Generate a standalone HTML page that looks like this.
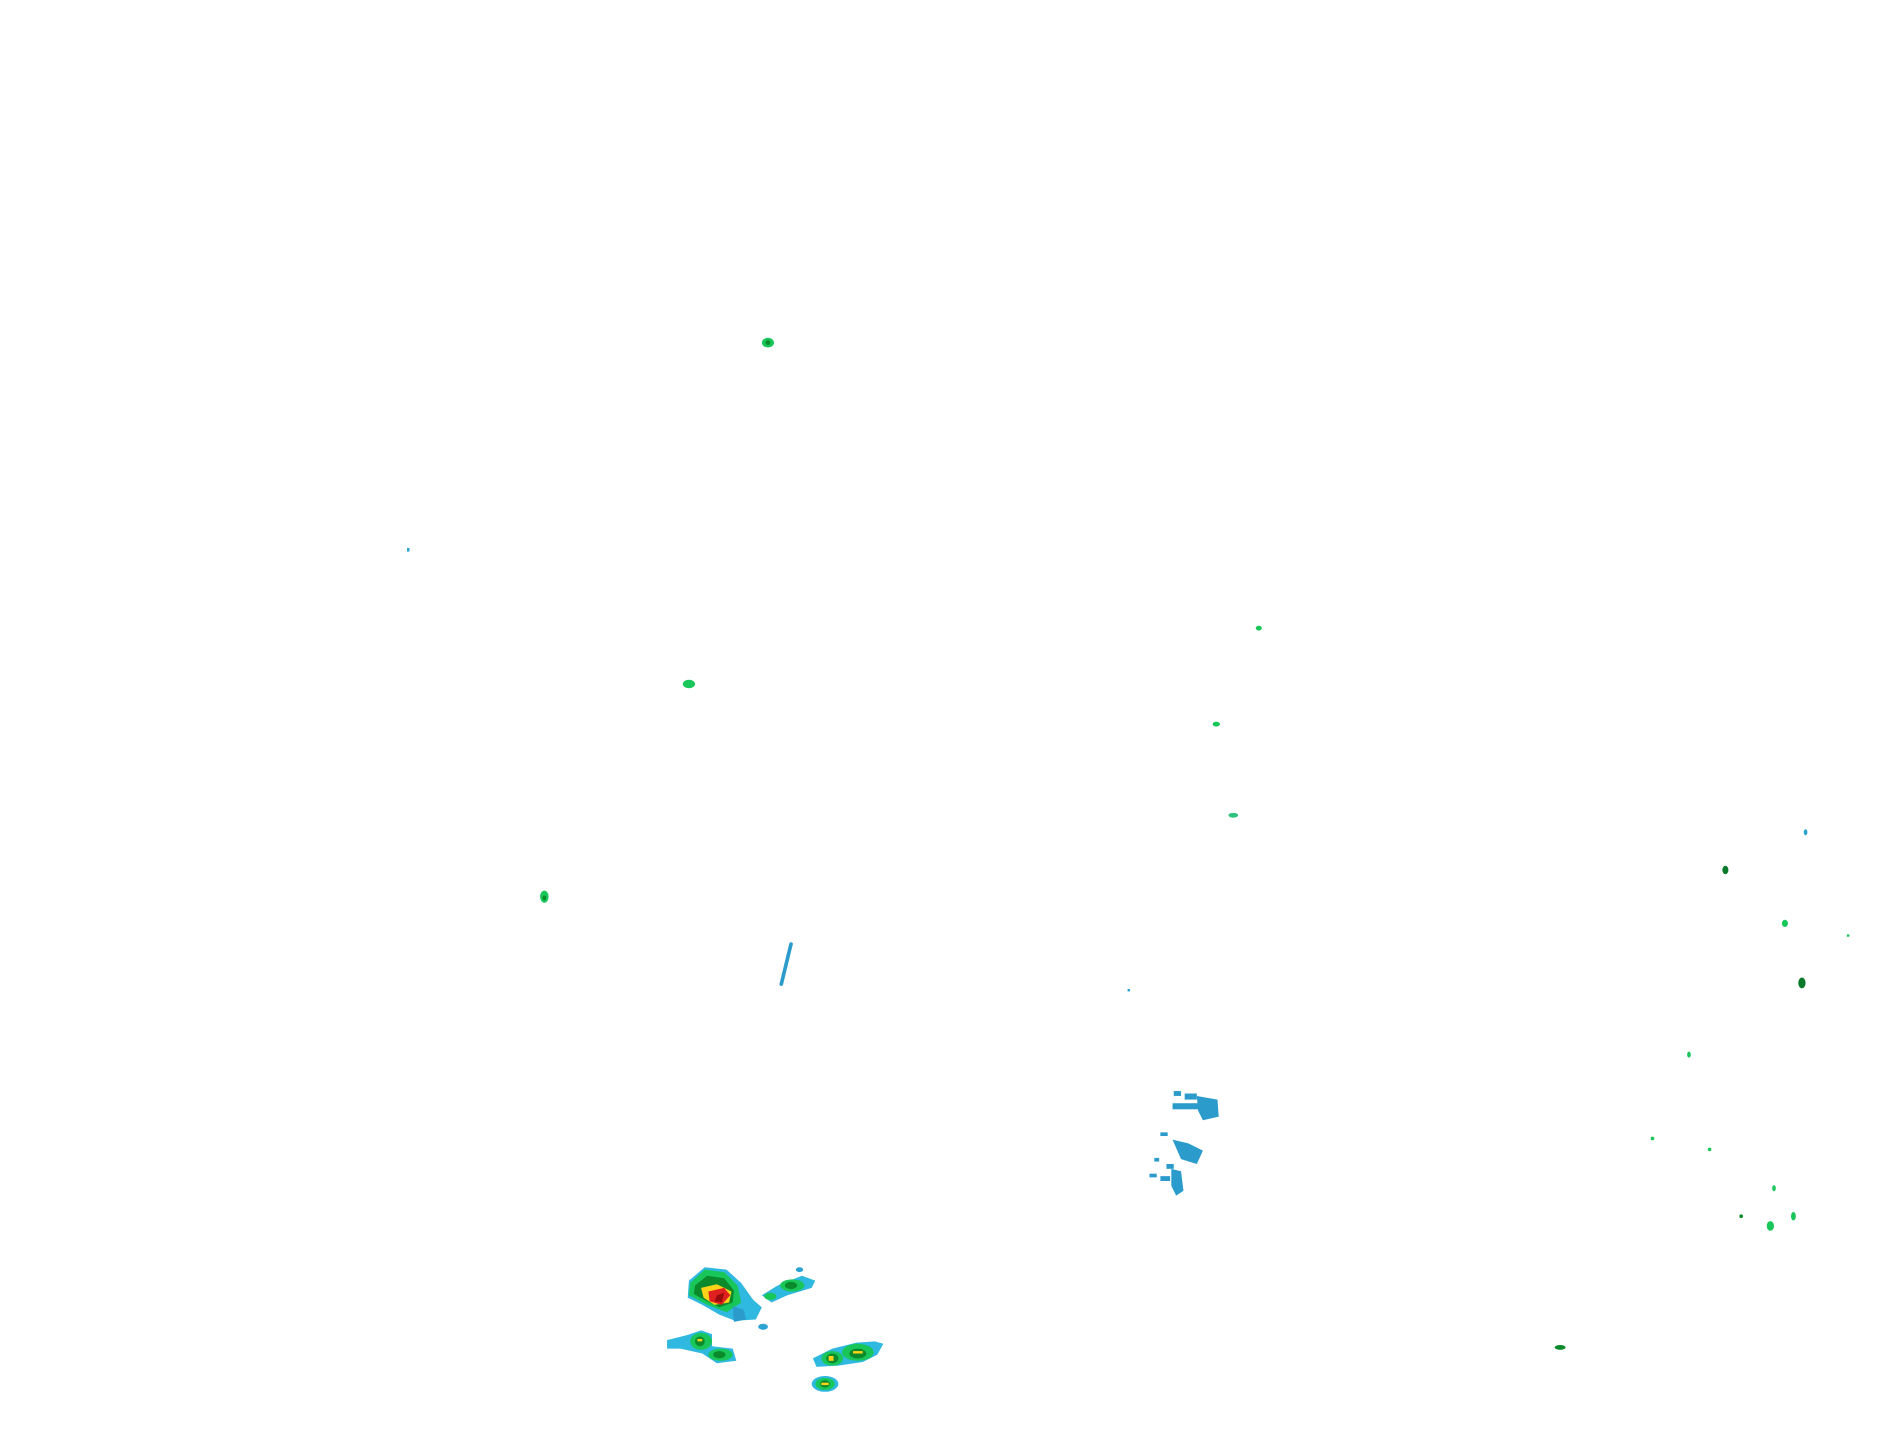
<!DOCTYPE html>
<html><head><meta charset="utf-8"><style>html,body{margin:0;padding:0;background:#fff}svg{display:block}</style></head>
<body>
<svg width="1904" height="1441" viewBox="0 0 1567 1186" preserveAspectRatio="none" xmlns="http://www.w3.org/2000/svg">
<rect width="1567" height="1186" fill="#fff"/>
<g>
<ellipse cx="632" cy="282" rx="5" ry="4" fill="#19c65a"/><ellipse cx="632" cy="282" rx="2" ry="2" fill="#0a8a2a"/>
<rect x="335" y="451" width="2" height="3" fill="#2aa3d3"/>
<ellipse cx="567" cy="563" rx="5" ry="3.5" fill="#19c65a"/>
<ellipse cx="1036" cy="517" rx="2.5" ry="2" fill="#19c65a"/>
<ellipse cx="1001" cy="596" rx="3" ry="2" fill="#19c65a"/>
<ellipse cx="1015" cy="671" rx="4" ry="2" fill="#2fc27e"/>
<ellipse cx="448" cy="738" rx="3.5" ry="5" fill="#19c65a"/><ellipse cx="448" cy="739" rx="1.5" ry="2" fill="#0a8a2a"/>
<line x1="643" y1="810" x2="651" y2="777" stroke="#2b9bcc" stroke-width="3" stroke-linecap="round"/>
<rect x="928" y="814" width="2" height="2" fill="#2aa3d3"/>
<g fill="#2b9bcc">
<rect x="966" y="898" width="6" height="4"/><rect x="975" y="900" width="10" height="5"/>
<rect x="965" y="908" width="22" height="5"/><path d="M985 902 L1002 905 L1003 919 L990 922 L986 914 Z"/>
<rect x="955" y="932" width="6" height="3"/><path d="M965 938 L978 941 L990 947 L985 958 L972 954 Z"/>
<rect x="950" y="953" width="4" height="3"/><rect x="960" y="958" width="6" height="4"/>
<rect x="946" y="966" width="6" height="3"/><rect x="955" y="968" width="8" height="4"/>
<path d="M964 962 L972 964 L974 980 L968 984 L964 976 Z"/>
</g>
<ellipse cx="1486" cy="685" rx="1.5" ry="2.5" fill="#2aa3d3"/>
<ellipse cx="1420" cy="716" rx="2.5" ry="3.5" fill="#0a7a2a"/>
<ellipse cx="1469" cy="760" rx="2.5" ry="3" fill="#19c65a"/>
<rect x="1520" y="769" width="2" height="2" fill="#19c65a"/>
<ellipse cx="1483" cy="809" rx="3" ry="4.5" fill="#0a7a2a"/>
<ellipse cx="1390" cy="868" rx="1.5" ry="2.5" fill="#19c65a"/>
<ellipse cx="1360" cy="937" rx="1.5" ry="1.5" fill="#19c65a"/>
<ellipse cx="1407" cy="946" rx="1.5" ry="1.5" fill="#19c65a"/>
<ellipse cx="1460" cy="978" rx="1.5" ry="2.5" fill="#19c65a"/>
<ellipse cx="1433" cy="1001" rx="1.5" ry="1.5" fill="#0a8a2a"/>
<ellipse cx="1457" cy="1009" rx="3" ry="4" fill="#19c65a"/>
<ellipse cx="1476" cy="1001" rx="2" ry="3.5" fill="#19c65a"/>
<ellipse cx="1284" cy="1109" rx="4.5" ry="2" fill="#0a8a2a"/>
<path d="M567 1054 L580 1043 L598 1045 L610 1056 L620 1070 L627 1076 L622 1086 L605 1087 L592 1082 L578 1074 L566 1068 Z" fill="#2fb8e0"/>
<path d="M568 1056 L580 1045 L596 1047 L607 1058 L610 1072 L598 1080 L582 1074 L567 1066 Z" fill="#19c65a"/>
<path d="M572 1058 L582 1050 L596 1052 L604 1062 L603 1072 L592 1076 L580 1070 L571 1065 Z" fill="#0a8a2a"/>
<path d="M577 1060 L590 1057 L602 1063 L600 1072 L588 1074 L579 1068 Z" fill="#ffd21a"/>
<path d="M583 1063 L596 1060 L601 1066 L594 1074 L584 1071 Z" fill="#e0201e"/>
<path d="M590 1066 L596 1064 L594 1072 L588 1071 Z" fill="#9a0a0a"/>
<path d="M603 1075 L612 1078 L614 1086 L604 1088 Z" fill="#2b9bcc"/>
<ellipse cx="628" cy="1092" rx="4" ry="2.5" fill="#2aa3d3"/>
<path d="M627 1066 L640 1058 L660 1050 L671 1054 L668 1060 L648 1066 L635 1072 Z" fill="#2fb8e0"/>
<ellipse cx="652" cy="1058" rx="10" ry="5" fill="#19c65a"/><ellipse cx="651" cy="1058" rx="5" ry="3" fill="#0a8a2a"/>
<ellipse cx="634" cy="1067" rx="5" ry="3" fill="#19c65a"/>
<ellipse cx="658" cy="1045" rx="3" ry="2" fill="#2aa3d3"/>
<path d="M549 1103 L565 1099 L577 1095 L586 1098 L586 1108 L603 1110 L606 1120 L590 1122 L578 1114 L560 1110 L549 1110 Z" fill="#2fb8e0"/>
<ellipse cx="577" cy="1104" rx="9" ry="7" fill="#19c65a"/><ellipse cx="576" cy="1104" rx="4" ry="4" fill="#0a8a2a"/>
<rect x="574" y="1102" width="4" height="2" fill="#ffd21a"/>
<ellipse cx="593" cy="1115" rx="10" ry="5" fill="#19c65a"/><ellipse cx="592" cy="1115" rx="5" ry="3" fill="#0a8a2a"/>
<path d="M669 1118 L685 1110 L705 1105 L720 1104 L727 1106 L722 1115 L710 1121 L690 1124 L672 1125 Z" fill="#2fb8e0"/>
<ellipse cx="685" cy="1118" rx="9" ry="6" fill="#19c65a"/><ellipse cx="706" cy="1113" rx="13" ry="7" fill="#19c65a"/>
<ellipse cx="685" cy="1118" rx="5" ry="4" fill="#0a8a2a"/><ellipse cx="706" cy="1114" rx="7" ry="4" fill="#0a8a2a"/>
<rect x="682" y="1116" width="4" height="4" fill="#ffd21a"/><rect x="702" y="1112" width="8" height="2" fill="#ffd21a"/>
<ellipse cx="679" cy="1139" rx="11" ry="6.5" fill="#2fb8e0"/><ellipse cx="679" cy="1139" rx="8" ry="5" fill="#19c65a"/>
<ellipse cx="679" cy="1139" rx="4" ry="3" fill="#0a8a2a"/><rect x="676" y="1138" width="6" height="2" fill="#ffd21a"/>
</g>
</svg>
</body></html>
